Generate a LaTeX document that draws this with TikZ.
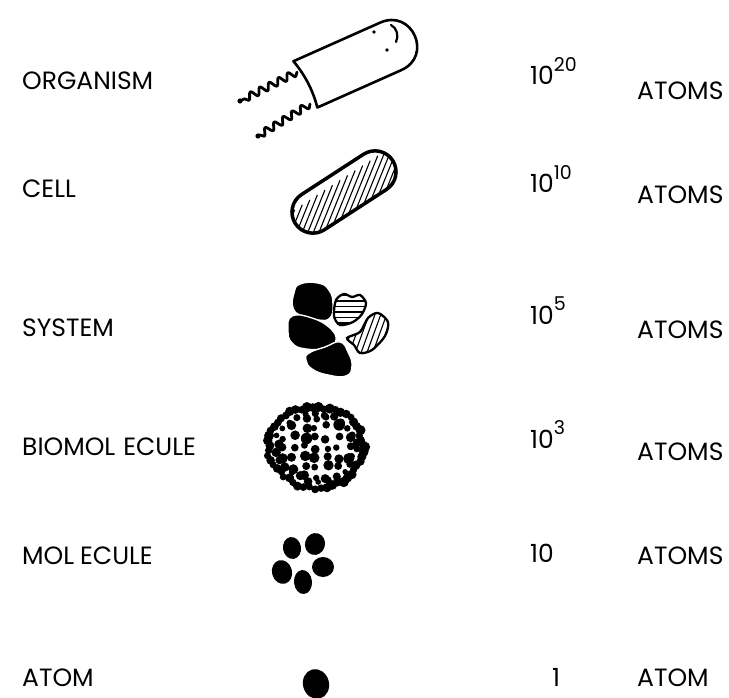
\documentclass[tikz,border=0pt]{standalone}
\usepackage{fontspec}
\setmainfont{Poppins}
\usetikzlibrary{decorations.pathmorphing}
\tikzset{
  lbl/.style={anchor=base west, inner sep=0pt, font=\fontsize{25}{30}\selectfont},
  flagellum/.style={line width=2.8pt, line cap=round, line join=round,
    decorate, decoration={snake, amplitude=3.6pt, segment length=10.5pt}},
  outline/.style={line width=2.6pt, line join=round},
  hatch/.style={line width=1.1pt},
  blob/.style={fill=black, draw=white, line width=1.4pt},
}
\newcommand{\pw}[1]{\raisebox{0.55em}{\fontsize{19}{19}\selectfont #1}}
% outlines of the two striped pieces of the system
\newcommand{\flatpiece}{plot[smooth cycle] coordinates {(336,300) (344,294)
  (352,297) (360,295) (366,303) (362,314) (353,322) (340,325) (334,316)}}
\newcommand{\tiltpiece}{plot[smooth cycle] coordinates {(347,338) (360,332)
  (368,318) (378,313) (388,322) (385,336) (372,350) (360,353) (354,345)}}

\begin{document}
\begin{tikzpicture}[x=1pt, y=-1pt]
  \useasboundingbox (0,0) rectangle (729,698);

  % level names
  \foreach \lab/\y [count=\i] in {ORGANISM/90, CELL/197, SYSTEM/336,
                                   BIOMOL\kern8pt ECULE/455, MOL\kern6pt ECULE/564, ATOM/686}{%
    \node[lbl] (lev\i) at (22,\y) {\lab};}
  % atom counts
  \foreach \num/\x/\y [count=\i] in {{10\pw{20}}/530/85, {10\pw{10}}/530/193,
                                     {10\pw{5}}/530/324, {10\pw{3}}/530/448,
                                     10/530/562, 1/552/686}{%
    \node[lbl] (num\i) at (\x,\y) {\num};}
  \foreach \unit/\y [count=\i] in {ATOMS/100, ATOMS/204, ATOMS/338,
                                    ATOMS/460, ATOMS/564, ATOM/686}{%
    \node[lbl] (unit\i) at (637,\y) {\unit};}

  % organism: rod with two flagella
  \draw[flagellum] (297,72) -- (240,101);
  \draw[flagellum] (310,104) -- (258,136);
  \fill (240,101) circle[radius=2.6pt];
  \fill (258,136) circle[radius=2.6pt];
  \begin{scope}[shift={(304,85)}, rotate=24]
    \draw[outline, fill=white] (0,-26) .. controls (5,-9) and (6,9) .. (3,26)
      -- (95,26) .. controls (130,26) and (130,-26) .. (95,-26) -- cycle;
  \end{scope}
  \fill (374,32) circle[radius=1.8pt];
  \fill (387,50) circle[radius=1.8pt];
  \draw[line width=2.2pt, line cap=round] (391,25) .. controls (397,28) and (399,36) .. (396,42);

  % cell
  \begin{scope}[shift={(344,192)}, rotate=33]
    \begin{scope}
      \clip[rounded corners=21pt] (-58,-21) rectangle (58,21);
      \foreach \k in {-15,...,9} \draw[hatch] (9*\k-30,30) -- ++(60,-42);
    \end{scope}
    \draw[line width=3.5pt, rounded corners=21pt] (-58,-21) rectangle (58,21);
  \end{scope}

  % system
  \path[blob] plot[smooth cycle, tension=0.8] coordinates {(300,284) (318,283)
    (329,290) (333,304) (330,318) (318,320) (302,316) (293,308) (294,293)};
  \path[blob] plot[smooth cycle, tension=0.8] coordinates {(292,316) (312,318)
    (330,328) (336,340) (328,348) (306,349) (292,343) (288,330)};
  \path[blob] plot[smooth cycle, tension=0.8] coordinates {(309,353) (325,347)
    (340,342) (348,352) (352,366) (346,376) (328,375) (312,369) (306,360)};
  \begin{scope}
    \clip \flatpiece;
    \foreach \y in {290,295.5,...,330} \draw[hatch] (330,\y) -- (370,\y);
  \end{scope}
  \draw[line width=2.3pt] \flatpiece;
  \begin{scope}
    \clip \tiltpiece;
    \foreach \k in {0,...,8} \draw[hatch] (335+5.85*\k,360) -- ++(18.2,-50);
  \end{scope}
  \draw[line width=2.3pt] \tiltpiece;

  % biomolecule: rough rim and speckled inside
  \pgfmathsetseed{11}
  \foreach \a in {0,7,...,357}{%
    \pgfmathsetmacro\rr{1+0.06*rand}
    \pgfmathsetmacro\ds{3.4+2*rnd}
    \fill ({316+47*\rr*cos(\a)},{447+40*\rr*sin(\a)}) circle[radius=\ds pt];}
  \foreach \a in {3,17,...,353}{%
    \pgfmathsetmacro\rr{0.84+0.05*rand}
    \pgfmathsetmacro\ds{2.8+2*rnd}
    \fill ({316+47*\rr*cos(\a)},{447+40*\rr*sin(\a)}) circle[radius=\ds pt];}
  \foreach \gx in {-33,-22,...,33}{%
    \foreach \gy in {-30,-20,...,30}{%
      \pgfmathtruncatemacro\inside{((\gx/38)^2+(\gy/33)^2<1) ? 1 : 0}
      \pgfmathsetmacro\ds{3.2+2.6*rnd}
      \ifnum\inside=1
        \fill ({316+\gx+2.5*rand},{447+\gy+2.5*rand}) circle[radius=\ds pt];
      \fi}}

  % molecule
  \fill[rotate around={10:(292,548)}] (292,548) ellipse[x radius=9pt, y radius=11pt];
  \fill[rotate around={-15:(315,544)}] (315,544) ellipse[x radius=10pt, y radius=11pt];
  \fill (323,567) ellipse[x radius=11pt, y radius=10pt];
  \fill[rotate around={5:(303,582)}] (303,582) ellipse[x radius=9pt, y radius=12pt];
  \fill[rotate around={15:(282,572)}] (282,572) ellipse[x radius=10pt, y radius=12pt];

  % atom
  \fill[rotate around={15:(316,684)}] (316,684) ellipse[x radius=13pt, y radius=15pt];
\end{tikzpicture}
\end{document}
